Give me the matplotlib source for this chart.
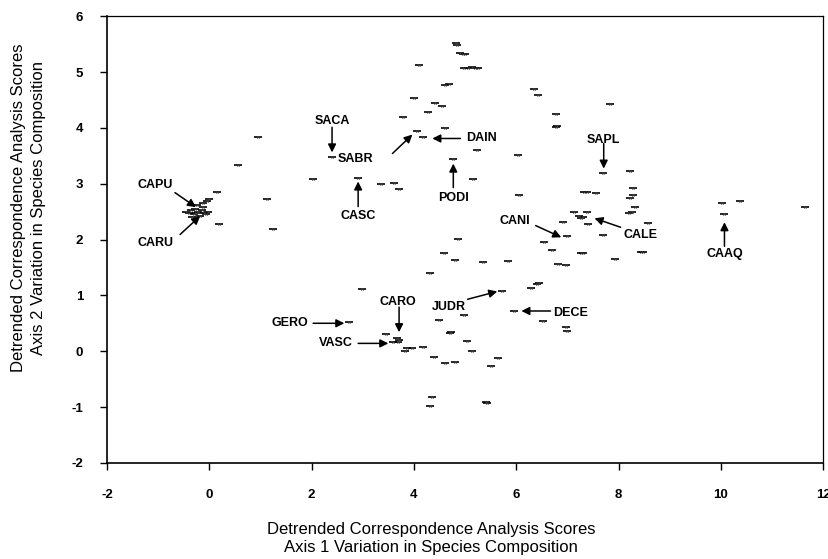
import matplotlib.pyplot as plt
import numpy as np

plt.rcParams['font.family'] = ['Liberation Sans', 'DejaVu Sans']
plt.rcParams['axes.unicode_minus'] = False

# DCA site scores (axis 1, axis 2)
axis1 = [
    # upper group
    4.85, 4.83, 4.95, 4.91, 5.00, 4.97, 5.06, 5.14, 5.20, 5.26, 4.10,
    4.61, 4.69, 4.00, 4.42, 4.54, 4.28, 3.79, 4.60, 4.07, 4.18,
    # left side
    0.95, 0.56, 2.40, 2.03, 2.91, 3.36, 3.62, 3.71, 4.77, 0.15, 1.13,
    0.19, 1.25,
    # CAPU / CARU cluster
    -0.45, -0.40, -0.35, -0.30, -0.28, -0.22, -0.18, -0.15, -0.10, -0.06,
    -0.02, -0.25, -0.33, -0.12, -0.24, -0.12, 0.00, -0.05,
    # right side
    5.24, 6.04, 5.16, 6.06, 6.34, 6.42, 6.77, 6.77, 6.80, 7.84,
    7.70, 8.23, 7.33, 7.38, 7.55, 8.29, 8.29, 8.23, 8.33, 8.27, 8.20,
    8.57, 7.12, 7.31, 7.39, 7.41, 7.26, 7.22, 6.92, 7.70, 7.00,
    10.03, 10.37, 11.64, 10.07,
    # lower group
    4.87, 4.58, 4.81, 5.36, 5.83, 6.55, 6.69, 6.81, 6.98, 7.26, 7.30,
    7.94, 8.43, 8.47, 6.28, 6.45, 6.40, 5.73, 5.95, 4.97, 6.53, 6.98,
    7.00, 4.50, 4.73, 4.70, 5.04, 5.14, 4.61, 4.81, 5.65, 5.51, 5.40,
    5.43, 4.32, 2.99, 2.74, 3.46, 3.67, 3.69, 3.60, 3.70, 3.87, 3.97,
    3.83, 4.18, 4.40, 4.36, 4.32,
]
axis2 = [
    5.49, 5.52, 5.33, 5.35, 5.33, 5.08, 5.08, 5.09, 5.08, 5.08, 5.12,
    4.76, 4.79, 4.54, 4.45, 4.40, 4.28, 4.19, 3.99, 3.94, 3.83,
    3.83, 3.33, 3.47, 3.09, 3.11, 2.99, 3.02, 2.91, 3.45, 2.86, 2.73,
    2.27, 2.18,
    2.50, 2.47, 2.52, 2.45, 2.55, 2.50, 2.43, 2.53, 2.48, 2.45,
    2.50, 2.48, 2.41, 2.58, 2.61, 2.66, 2.72, 2.69,
    3.60, 3.52, 3.08, 2.79, 4.69, 4.58, 4.24, 4.02, 4.03, 4.42,
    3.20, 3.22, 2.86, 2.86, 2.84, 2.92, 2.79, 2.75, 2.58, 2.49, 2.47,
    2.29, 2.49, 2.40, 2.49, 2.27, 2.38, 2.42, 2.31, 2.09, 2.06,
    2.66, 2.69, 2.59, 2.45,
    2.01, 1.75, 1.64, 1.59, 1.61, 1.95, 1.81, 1.56, 1.54, 1.75, 1.75,
    1.66, 1.77, 1.77, 1.14, 1.22, 1.20, 1.07, 0.72, 0.64, 0.54, 0.43,
    0.36, 0.56, 0.34, 0.33, 0.18, 0.00, -0.21, -0.20, -0.13, -0.27, -0.91,
    -0.93, 1.40, 1.11, 0.52, 0.30, 0.23, 0.16, 0.16, 0.20, 0.05, 0.05,
    0.00, 0.07, -0.11, -0.82, -0.98,
]

# species labels: name, text position, arrow start, arrow tip
species = ['SACA', 'CAPU', 'CARU', 'CASC', 'SABR', 'DAIN', 'PODI', 'SAPL',
           'CANI', 'CALE', 'CAAQ', 'CARO', 'JUDR', 'DECE', 'GERO', 'VASC']
label_xy = [(2.40, 4.13), (-1.06, 2.97), (-1.06, 1.93), (2.91, 2.43),
            (2.85, 3.45), (5.33, 3.81), (4.77, 2.75), (7.71, 3.79),
            (5.98, 2.34), (8.43, 2.09), (10.07, 1.74), (3.69, 0.89),
            (4.69, 0.80), (7.06, 0.68), (1.58, 0.50), (2.48, 0.14)]
arrow_from = [(2.40, 4.01), (-0.67, 2.84), (-0.57, 2.09), (2.91, 2.59),
              (3.58, 3.54), (4.91, 3.81), (4.77, 2.93), (7.71, 3.72),
              (6.38, 2.25), (8.04, 2.22), (10.07, 1.88), (3.71, 0.79),
              (5.05, 0.93), (6.67, 0.72), (2.03, 0.50), (2.91, 0.14)]
arrow_to = [(2.40, 3.56), (-0.26, 2.58), (-0.18, 2.42), (2.91, 3.04),
            (3.97, 3.88), (4.36, 3.81), (4.77, 3.36), (7.71, 3.27),
            (6.88, 2.04), (7.53, 2.38), (10.07, 2.31), (3.71, 0.34),
            (5.63, 1.07), (6.10, 0.72), (2.64, 0.50), (3.50, 0.14)]

fig = plt.figure(figsize=(8.29, 5.59), dpi=100)
ax = fig.add_axes([0.129, 0.172, 0.864, 0.799])

ax.plot(axis1, axis2, linestyle='none', marker='_', ms=5.5, mew=1.2, color='black')
ax.plot(axis1, axis2, linestyle='none', marker='x', ms=1.8, mew=0.5, color='#444444')

for name, txt, start, tip in zip(species, label_xy, arrow_from, arrow_to):
    ax.text(txt[0], txt[1], name, ha='center', va='center',
            fontsize=9, fontweight='bold')
    ax.annotate('', xy=tip, xytext=start,
                arrowprops=dict(arrowstyle='-|>', color='black', lw=1.1,
                                mutation_scale=12, shrinkA=0, shrinkB=0))

ax.set_xlim(-2, 12)
ax.set_ylim(-2, 6)
ax.set_xticks(np.arange(-2, 13, 2))
ax.set_yticks(np.arange(-2, 7, 1))
ax.tick_params(direction='out', length=5, width=1, labelsize=9.5, pad=14)
ax.tick_params(axis='y', pad=12)
for lab in ax.get_xticklabels() + ax.get_yticklabels():
    lab.set_fontweight('bold')
for side in ['left', 'bottom']:
    ax.spines[side].set_linewidth(1.2)
for side in ['top', 'right']:
    ax.spines[side].set_linewidth(0.9)

# axis titles placed on the figure
fig.text(0.52, 0.0367, 'Detrended Correspondence Analysis Scores\n'
         'Axis 1 Variation in Species Composition',
         ha='center', va='center', fontsize=12, linespacing=1.3)
fig.text(0.0344, 0.628, 'Detrended Correspondence Analysis Scores\n'
         'Axis 2 Variation in Species Composition',
         ha='center', va='center', rotation=90, fontsize=12, linespacing=1.45)

fig.savefig('out.png', dpi=100)
